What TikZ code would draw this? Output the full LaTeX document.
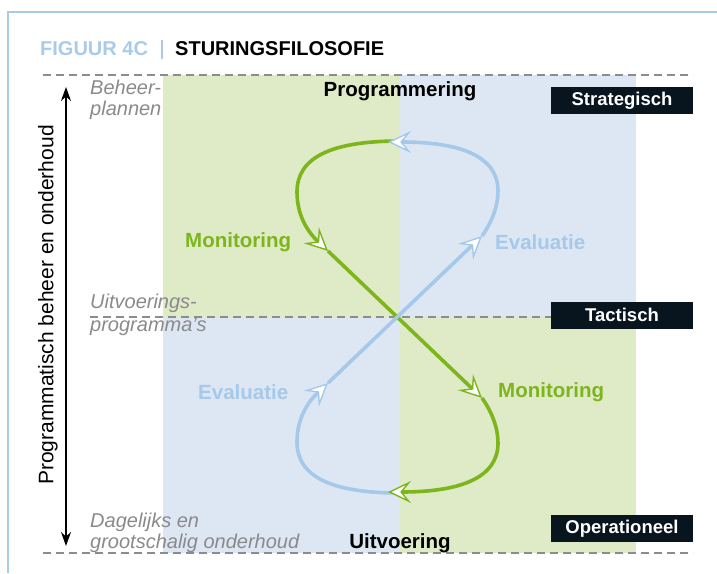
\documentclass[tikz,border=0pt]{standalone}
\usepackage{fontspec}
\setmainfont{Liberation Sans}
\usetikzlibrary{arrows.meta}
\definecolor{lgreen}{HTML}{DFEAC6}
\definecolor{lblue}{HTML}{DDE7F4}
\definecolor{gline}{HTML}{7DB51C}
\definecolor{bline}{HTML}{A6C8E9}
\definecolor{dashgray}{HTML}{8C8C8C}
\definecolor{labgray}{HTML}{8A8A8A}
\definecolor{boxblack}{HTML}{08141E}
\definecolor{frameblue}{HTML}{A9CBEA}
\begin{document}
\begin{tikzpicture}[x=1pt,y=-1pt,
  dashline/.style={draw=dashgray, line width=2.5pt, dash pattern=on 8pt off 5pt},
  italab/.style={anchor=base west, text=labgray, font=\fontsize{20}{22}\selectfont\itshape, inner sep=0pt},
  boldlab/.style={anchor=base, font=\fontsize{20.5}{24}\selectfont\bfseries, inner sep=0pt},
  levelbox/.style={fill=boxblack, text=white, font=\fontsize{18.5}{22}\selectfont\bfseries, minimum width=142pt, minimum height=27pt, inner sep=0pt},
  gpath/.style={draw=gline, line width=3.6pt},
  bpath/.style={draw=bline, line width=3.6pt},
  opentip/.style={-{Stealth[length=23pt,width=22pt,inset=9pt,fill=white,line width=1.4pt]}},
]
\useasboundingbox (0,0) rectangle (717,573);
% quadrants
\fill[lgreen] (163,75) rectangle (400,317);
\fill[lblue] (400,75) rectangle (636,317);
\fill[lblue] (163,317) rectangle (400,553);
\fill[lgreen] (400,317) rectangle (636,553);
% frame
\draw[frameblue, line width=2.5pt] (8,573) -- (8,12) -- (717,12);
% title
\node[anchor=base west, inner sep=0pt, text=frameblue, font=\fontsize{20}{24}\selectfont\bfseries] (fig) at (40,55) {FIGUUR 4C};
\draw[frameblue, line width=2pt] (162,40) -- (162,59);
\node[anchor=base west, inner sep=0pt, font=\fontsize{20}{24}\selectfont\bfseries] (title) at (175,55) {STURINGSFILOSOFIE};
% dashed lines
\coordinate (d1a) at (43,75); \coordinate (d1b) at (693,75);
\coordinate (d2a) at (90,317); \coordinate (d2b) at (693,317);
\coordinate (d3a) at (43,553); \coordinate (d3b) at (693,553);
\draw[dashline] (d1a) -- (d1b);
\draw[dashline] (d2a) -- (d2b);
\draw[dashline] (d3a) -- (d3b);
% vertical axis
\coordinate (vtop) at (66,87); \coordinate (vbot) at (66,546);
\draw[line width=1.6pt, {Stealth[length=14pt,width=10pt]}-{Stealth[length=14pt,width=10pt]}] (vtop) -- (vbot);
\node[rotate=90, inner sep=0pt, font=\fontsize{21}{24}\selectfont] (axis) at (48,305) {Programmatisch beheer en onderhoud};
% left italic labels
\node[italab] (l1a) at (90,94) {Beheer-};
\node[italab] (l1b) at (90,115) {plannen};
\node[italab] (l2a) at (90,308) {Uitvoerings-};
\node[italab] (l2b) at (90,331) {programma’s};
\node[italab] (l3a) at (90,527) {Dagelijks en};
\node[italab] (l3b) at (90,548) {grootschalig onderhoud};
% top / bottom labels
\node[boldlab] (prog) at (400,96) {Programmering};
\node[boldlab] (uitv) at (400,548) {Uitvoering};
% level boxes
\node[levelbox] (strat) at (622,100.5) {Strategisch};
\node[levelbox] (tact) at (622,315) {Tactisch};
\node[levelbox] (oper) at (622,528.5) {Operationeel};
% loop labels
\node[boldlab, anchor=west, text=gline] (mon1) at (185,242) {Monitoring};
\node[boldlab, anchor=west, text=bline] (ev1) at (495,242) {Evaluatie};
\node[boldlab, anchor=west, text=bline] (ev2) at (198,392) {Evaluatie};
\node[boldlab, anchor=west, text=gline] (mon2) at (498,392) {Monitoring};
% figure eight
\coordinate (T) at (400,141);
\coordinate (Tb) at (388,142);
\coordinate (B) at (400,493);
\coordinate (Bg) at (388,492);
\coordinate (G1) at (328,251);
\coordinate (G2) at (482,398);
\coordinate (B1) at (328,383);
\coordinate (B2) at (482,236);
% blue lower-left loop
\draw[bpath, opentip] (B) .. controls (330,493) and (297,476) .. (297,442) .. controls (297,416) and (310,400) .. (B1);
% green upper-left loop
\draw[gpath, opentip] (T) .. controls (330,141) and (297,158) .. (297,192) .. controls (297,218) and (310,234) .. (G1);
\draw[gpath, opentip] (G1) -- (G2);
\draw[bpath, opentip] (B1) -- (B2);
\draw[bpath, opentip] (B2) .. controls (492,222) and (498,206) .. (498,191) .. controls (498,156) and (460,142) .. (Tb);
\draw[gpath, opentip] (G2) .. controls (492,412) and (498,428) .. (498,443) .. controls (498,478) and (460,492) .. (Bg);
\end{tikzpicture}
\end{document}
